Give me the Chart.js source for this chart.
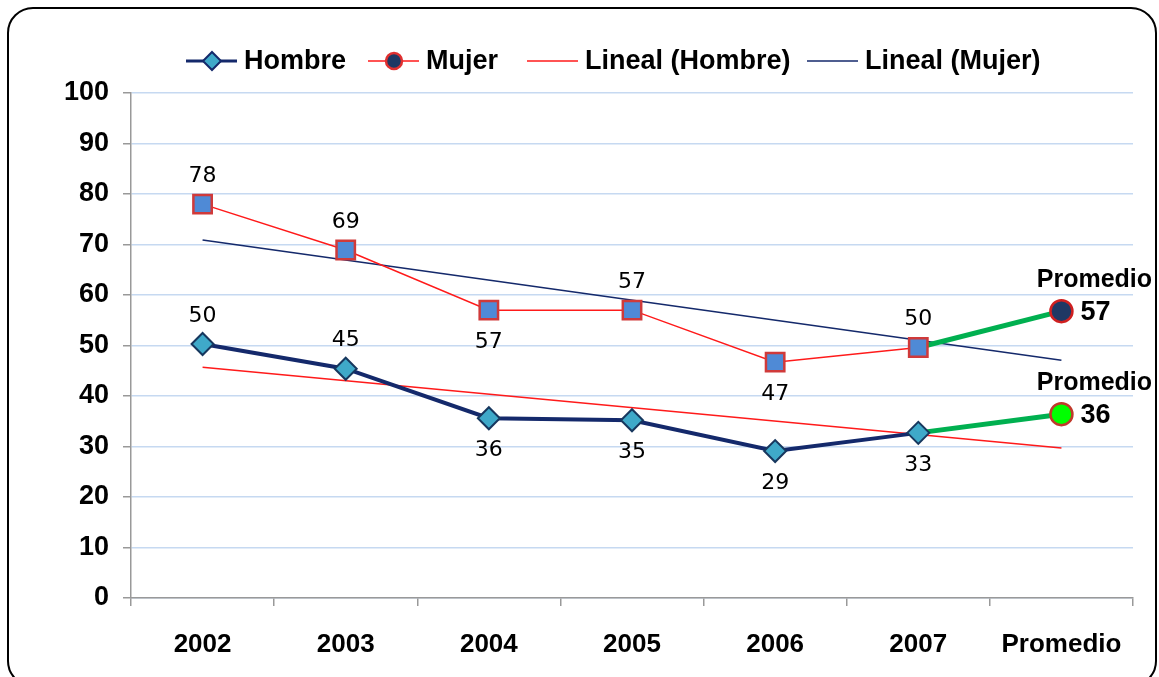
<!DOCTYPE html>
<html>
<head>
<meta charset="utf-8">
<script src="https://cdn.jsdelivr.net/npm/chart.js@4.4.1/dist/chart.umd.min.js"></script>
<style>
  body { margin: 0; background: #fff; }
  #wrap { position: relative; width: 1159px; height: 677px; overflow: hidden; }
  #frame { position: absolute; left: 7px; top: 7px; width: 1150px; height: 680px;
           border: 2px solid #000; border-radius: 26px; box-sizing: border-box; }
  canvas { position: absolute; left: 0; top: 0; }
</style>
</head>
<body>
<div id="wrap">
  <div id="frame"></div>
  <canvas id="lineChart" width="1159" height="677"></canvas>
</div>
<script>
const years = ['2002', '2003', '2004', '2005', '2006', '2007', 'Promedio'];
const hombre = [50.3, 45.4, 35.6, 35.2, 29.1, 32.7, null];
const mujer = [78, 68.9, 57, 57, 46.7, 49.6, null];
const hombrePromedio = [null, null, null, null, null, 32.7, 36.4];
const mujerPromedio = [null, null, null, null, null, 49.6, 56.8];
// trend lines: only the two end values
const linealHombre = [45.7, null, null, null, null, null, 29.7];
const linealMujer = [70.9, null, null, null, null, null, 47.1];

// where each value label goes
const hombreLabelPos = ['up', 'up', 'down', 'down', 'down', 'down'];
const mujerLabelPos = ['up', 'up', 'down', 'up', 'down', 'up'];

const navy = '#14296b';
const red = '#ff1a1a';
const green = '#00b050';

const labelsPlugin = {
  id: 'valueLabels',
  afterDatasetsDraw(chart) {
    const ctx = chart.ctx;
    ctx.save();
    ctx.fillStyle = '#000';
    ctx.textAlign = 'center';
    ctx.textBaseline = 'middle';
    ctx.font = '22px "DejaVu Sans"';
    [[0, hombre, hombreLabelPos], [1, mujer, mujerLabelPos]].forEach(([idx, vals, pos]) => {
      const meta = chart.getDatasetMeta(idx);
      vals.forEach((v, i) => {
        if (v === null) return;
        const p = meta.data[i];
        const dy = pos[i] === 'up' ? -28 : 32;
        ctx.fillText(Math.round(v), p.x, p.y + dy);
      });
    });
    // Promedio labels
    [[2, hombrePromedio], [3, mujerPromedio]].forEach(([idx, vals]) => {
      const meta = chart.getDatasetMeta(idx);
      const last = vals.length - 1;
      const p = meta.data[last];
      ctx.font = 'bold 25px "Liberation Sans"';
      ctx.textAlign = 'center';
      ctx.fillText('Promedio', p.x + 33, p.y - 31);
      ctx.font = 'bold 27px "Liberation Sans"';
      ctx.textAlign = 'left';
      ctx.fillText(Math.round(vals[last]), p.x + 19, p.y + 1);
    });
    ctx.restore();
  }
};

const legendPlugin = {
  id: 'customLegend',
  afterDraw(chart) {
    const ctx = chart.ctx;
    const items = [
      { text: 'Hombre', color: navy, width: 3, marker: 'diamond', x: 186 },
      { text: 'Mujer', color: red, width: 1.5, marker: 'circle', x: 368 },
      { text: 'Lineal (Hombre)', color: red, width: 1.5, x: 527 },
      { text: 'Lineal (Mujer)', color: navy, width: 1.5, x: 807 }
    ];
    const y = 61;
    ctx.save();
    ctx.font = 'bold 27px "Liberation Sans"';
    ctx.textBaseline = 'middle';
    items.forEach(it => {
      const x = it.x;
      ctx.strokeStyle = it.color;
      ctx.lineWidth = it.width;
      ctx.beginPath();
      ctx.moveTo(x, y);
      ctx.lineTo(x + 51, y);
      ctx.stroke();
      const cx = x + 26;
      if (it.marker === 'diamond') {
        ctx.beginPath();
        ctx.moveTo(cx, y - 9); ctx.lineTo(cx + 9, y); ctx.lineTo(cx, y + 9); ctx.lineTo(cx - 9, y);
        ctx.closePath();
        ctx.fillStyle = '#3fa9c9';
        ctx.fill();
        ctx.strokeStyle = navy;
        ctx.lineWidth = 2;
        ctx.stroke();
      } else if (it.marker === 'circle') {
        ctx.beginPath();
        ctx.arc(cx, y, 8, 0, Math.PI * 2);
        ctx.fillStyle = '#1f3864';
        ctx.fill();
        ctx.strokeStyle = '#e03030';
        ctx.lineWidth = 2.5;
        ctx.stroke();
      }
      ctx.fillStyle = '#000';
      ctx.fillText(it.text, x + 58, y + 1);
    });
    ctx.restore();
  }
};

const ctx = document.getElementById('lineChart').getContext('2d');
const lineChart = new Chart(ctx, {
  type: 'line',
  data: {
    labels: years,
    datasets: [
      {
        label: 'Hombre',
        data: hombre,
        borderColor: navy,
        borderWidth: 4,
        pointStyle: 'rectRot',
        pointRadius: 11,
        pointBackgroundColor: '#3fa9c9',
        pointBorderColor: '#17375e',
        pointBorderWidth: 2,
        order: 1
      },
      {
        label: 'Mujer',
        data: mujer,
        borderColor: red,
        borderWidth: 1.5,
        pointStyle: 'rect',
        pointRadius: 13,
        pointBackgroundColor: '#4f8ad6',
        pointBorderColor: '#d03a3a',
        pointBorderWidth: 2.5,
        order: 1
      },
      {
        label: 'Hombre Promedio',
        data: hombrePromedio,
        borderColor: green,
        borderWidth: 5,
        pointRadius: [0, 0, 0, 0, 0, 0, 11],
        pointStyle: 'circle',
        pointBackgroundColor: '#00ff00',
        pointBorderColor: '#c0392b',
        pointBorderWidth: 2.5,
        order: 2
      },
      {
        label: 'Mujer Promedio',
        data: mujerPromedio,
        borderColor: green,
        borderWidth: 5,
        pointRadius: [0, 0, 0, 0, 0, 0, 11],
        pointStyle: 'circle',
        pointBackgroundColor: '#1f3864',
        pointBorderColor: '#d02020',
        pointBorderWidth: 2.5,
        order: 2
      },
      {
        label: 'Lineal (Hombre)',
        data: linealHombre,
        borderColor: red,
        borderWidth: 1.5,
        pointRadius: 0,
        spanGaps: true,
        order: 3
      },
      {
        label: 'Lineal (Mujer)',
        data: linealMujer,
        borderColor: navy,
        borderWidth: 1.5,
        pointRadius: 0,
        spanGaps: true,
        order: 3
      }
    ]
  },
  options: {
    responsive: false,
    animation: false,
    layout: { padding: { top: 93, right: 26, left: 0, bottom: 0 } },
    plugins: {
      legend: { display: false },
      tooltip: { enabled: false }
    },
    scales: {
      y: {
        min: 0,
        max: 100,
        ticks: {
          stepSize: 10,
          color: '#000',
          padding: 14,
          font: { family: 'Liberation Sans', size: 27, weight: 'bold' }
        },
        grid: { color: '#c6d9f1', lineWidth: 1.5, tickColor: '#999', tickLength: 8 },
        border: { color: '#999', width: 1.5 },
        afterFit(scale) { scale.width = 131; }
      },
      x: {
        offset: true,
        ticks: {
          color: '#000',
          padding: 23,
          font: { family: 'Liberation Sans', size: 26, weight: 'bold' }
        },
        grid: { offset: true, drawOnChartArea: false, tickColor: '#999', tickLength: 8, lineWidth: 1.5 },
        border: { color: '#999', width: 1.5 },
        afterFit(scale) { scale.height = 79; }
      }
    }
  },
  plugins: [labelsPlugin, legendPlugin]
});
</script>
</body>
</html>
